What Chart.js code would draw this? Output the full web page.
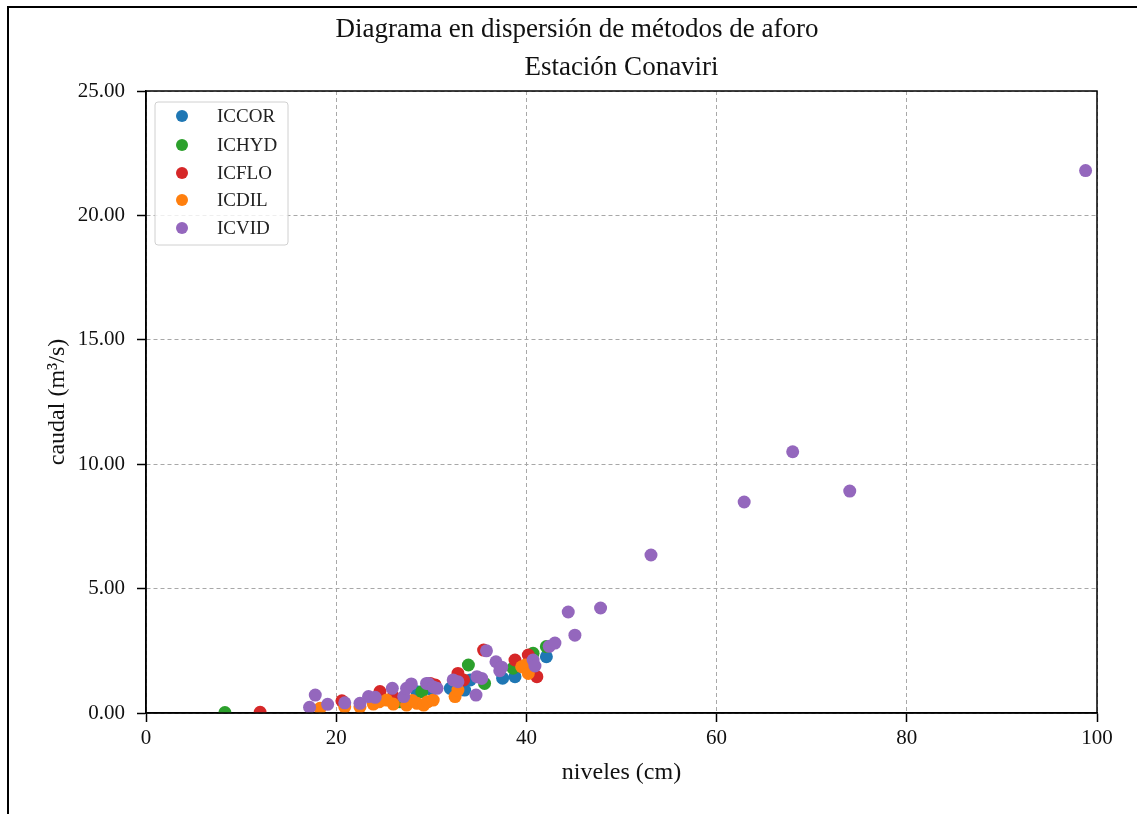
<!DOCTYPE html>
<html>
<head>
<meta charset="utf-8">
<script src="https://cdn.jsdelivr.net/npm/chart.js@4"></script>
<style>
  html, body { margin: 0; padding: 0; background: #fff; }
  #frame {
    position: absolute; left: 7px; top: 6px;
    border-top: 2px solid #000; border-left: 2px solid #000;
    width: 1128px; height: 806px;
  }
  canvas { display: block; }
</style>
</head>
<body>
<div id="frame"><canvas id="chart" width="1128" height="806"></canvas></div>
<script>
// textos
const titleText = 'Diagrama en dispersión de métodos de aforo';
const subtitleText = 'Estación Conaviri';
const xLabel = 'niveles (cm)';
const yLabel = 'caudal (m³/s)';

// series (orden de la leyenda)
const seriesNames = ['ICCOR', 'ICHYD', 'ICFLO', 'ICDIL', 'ICVID'];
const seriesColors = ['#1f77b4', '#2ca02c', '#d62728', '#ff7f0e', '#9467bd'];

const xCOR = [28.5, 30.0, 32.0, 33.5, 34.1, 37.5, 38.8, 42.1];
const yCOR = [0.85, 0.95, 0.99, 0.92, 1.33, 1.40, 1.46, 2.26];

const xHYD = [8.3, 26.7, 29.0, 33.9, 35.6, 38.6, 40.7, 42.1];
const yHYD = [0.02, 0.45, 0.85, 1.93, 1.19, 1.80, 2.40, 2.67];

const xFLO = [12.0, 20.6, 24.6, 26.0, 29.9, 30.4, 32.8, 33.4, 35.5, 38.8, 40.2, 41.1];
const yFLO = [0.03, 0.49, 0.86, 0.66, 1.19, 1.13, 1.59, 1.33, 2.53, 2.13, 2.33, 1.46];

const xDIL = [18.3, 20.9, 22.5, 23.9, 24.5, 25.3, 26.0, 27.4, 28.0, 28.5, 29.2, 29.6, 30.2, 32.5, 32.8, 39.5, 39.9, 40.2];
const yDIL = [0.19, 0.25, 0.25, 0.36, 0.45, 0.52, 0.36, 0.32, 0.50, 0.39, 0.32, 0.45, 0.52, 0.66, 0.92, 1.86, 1.93, 1.59];

const xVID = [17.2, 17.8, 19.1, 20.9, 22.5, 23.4, 24.1, 25.9, 27.1, 27.4, 27.9, 29.5, 29.7, 30.2, 30.6, 32.3, 32.8,
              34.7, 34.8, 35.3, 35.8, 36.8, 37.2, 37.4, 40.7, 40.9, 42.4, 43.0, 44.4, 45.1, 47.8, 53.1, 62.9, 68.0, 74.0, 98.8];
const yVID = [0.23, 0.72, 0.35, 0.41, 0.39, 0.66, 0.63, 0.99, 0.66, 0.99, 1.17, 1.19, 1.19, 1.05, 0.99, 1.33, 1.26,
              0.72, 1.46, 1.39, 2.50, 2.06, 1.70, 1.84, 2.13, 1.89, 2.68, 2.81, 4.06, 3.13, 4.22, 6.35, 8.48, 10.50, 8.92, 21.80];

const xTicks = [0, 20, 40, 60, 80, 100];
const yTicks = [0, 5, 10, 15, 20, 25];

const allX = [xCOR, xHYD, xFLO, xDIL, xVID];
const allY = [yCOR, yHYD, yFLO, yDIL, yVID];

const serif = "'Liberation Serif', 'DejaVu Serif', serif";

const datasets = seriesNames.map(function (name, i) {
    return {
        label: name,
        data: allX[i].map(function (x, j) { return { x: x, y: allY[i][j] }; }),
        backgroundColor: seriesColors[i],
        borderWidth: 0,
        pointRadius: 6.5,
        pointHoverRadius: 6.5,
        clip: 0,
        order: seriesNames.length - i   // el último de la lista queda encima
    };
});

// titulos, marco de los ejes y leyenda dentro del área
const extras = {
    id: 'extras',
    afterDraw(chart) {
        const ctx = chart.ctx;
        const a = chart.chartArea;
        ctx.save();

        // marco completo
        ctx.strokeStyle = '#000';
        ctx.lineWidth = 1.5;
        ctx.strokeRect(a.left, a.top, a.right - a.left, a.bottom - a.top);

        // titulos
        ctx.fillStyle = '#111';
        ctx.font = '27px ' + serif;
        ctx.textAlign = 'center';
        ctx.textBaseline = 'middle';
        ctx.fillText(titleText, 568, 22);
        ctx.fillText(subtitleText, (a.left + a.right) / 2, 60);

        // leyenda
        const bx = 146, by = 94, bw = 133, bh = 143;
        ctx.beginPath();
        ctx.roundRect(bx, by, bw, bh, 3);
        ctx.fillStyle = 'rgba(255,255,255,0.8)';
        ctx.fill();
        ctx.strokeStyle = '#d0d0d0';
        ctx.lineWidth = 1;
        ctx.stroke();

        const rowsY = [108, 137, 165, 192, 220];
        ctx.font = '19px ' + serif;
        ctx.textAlign = 'left';
        chart.data.datasets.forEach(function (ds, i) {
            ctx.beginPath();
            ctx.arc(173, rowsY[i], 6, 0, Math.PI * 2);
            ctx.fillStyle = ds.backgroundColor;
            ctx.fill();
            ctx.fillStyle = '#222';
            ctx.fillText(ds.label, 208, rowsY[i] + 1);
        });
        ctx.restore();
    }
};

const gridOpts = {
    color: '#a8a8a8',
    lineWidth: 1,
    tickLength: 9,
    tickColor: '#000',
    tickWidth: 1.5,
    tickBorderDash: []
};

new Chart(document.getElementById('chart').getContext('2d'), {
    type: 'scatter',
    data: { datasets: datasets },
    options: {
        responsive: false,
        animation: false,
        devicePixelRatio: 1,
        layout: { padding: { left: 0, right: 40, top: 83, bottom: 0 } },
        plugins: {
            legend: { display: false },
            title: { display: false },
            tooltip: { enabled: false }
        },
        scales: {
            x: {
                type: 'linear',
                min: 0,
                max: 100,
                afterBuildTicks: function (scale) {
                    scale.ticks = xTicks.map(function (v) { return { value: v }; });
                },
                afterFit: function (scale) { scale.height = 101; },
                grid: gridOpts,
                border: { color: '#000', width: 1.5, dash: [4, 3] },
                ticks: {
                    color: '#111',
                    padding: 4,
                    maxRotation: 0,
                    font: { family: serif, size: 21 },
                    callback: function (v) { return v; }
                },
                title: {
                    display: true,
                    text: xLabel,
                    color: '#111',
                    font: { family: serif, size: 24 },
                    padding: { top: 0, bottom: 27 }
                }
            },
            y: {
                type: 'linear',
                min: 0,
                max: 25,
                afterBuildTicks: function (scale) {
                    scale.ticks = yTicks.map(function (v) { return { value: v }; });
                },
                afterFit: function (scale) { scale.width = 137; },
                grid: gridOpts,
                border: { color: '#000', width: 1.5, dash: [4, 3] },
                ticks: {
                    color: '#111',
                    padding: 12,
                    font: { family: serif, size: 21 },
                    callback: function (v) { return Number(v).toFixed(2); }
                },
                title: {
                    display: true,
                    text: yLabel,
                    color: '#111',
                    font: { family: serif, size: 24 },
                    padding: { top: 34, bottom: 0 }
                }
            }
        }
    },
    plugins: [extras]
});
</script>
</body>
</html>
